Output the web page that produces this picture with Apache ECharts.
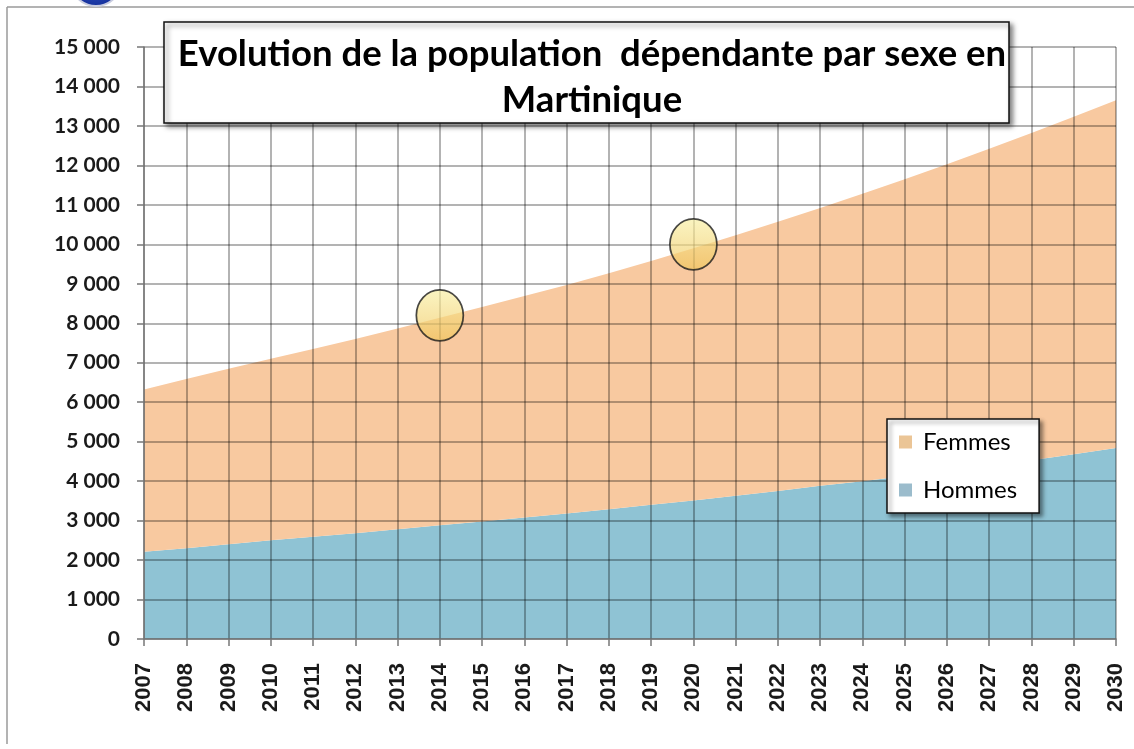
<!DOCTYPE html>
<html>
<head>
<meta charset="utf-8">
<script src="https://cdn.jsdelivr.net/npm/echarts@6/dist/echarts.min.js"></script>
<style>
html,body{margin:0;padding:0;background:#fff;}
#chart{width:1134px;height:749px;}
</style>
</head>
<body>
<div id="chart"></div>
<script>
var years = ['2007','2008','2009','2010','2011','2012','2013','2014','2015','2016','2017','2018','2019','2020','2021','2022','2023','2024','2025','2026','2027','2028','2029','2030'];
var hommes = [2210,2300,2400,2500,2590,2680,2780,2880,2980,3080,3180,3290,3400,3510,3630,3750,3880,4000,4130,4260,4390,4530,4680,4840];
var femmes = [4110,4290,4450,4600,4760,4920,5090,5260,5430,5610,5790,5980,6180,6390,6600,6820,7040,7280,7520,7770,8030,8290,8550,8810];
var markers = [['2014', 8200], ['2020', 10000]];
var titleText = 'Evolution de la population  dépendante par sexe en\nMartinique';

var chart = echarts.init(document.getElementById('chart'));
var gridLine = {show: true, lineStyle: {color: 'rgba(0,0,0,0.4)', width: 1.5}};
chart.setOption({
  backgroundColor: '#ffffff',
  animation: false,
  title: {
    text: titleText,
    left: 587, top: 26,
    textAlign: 'center',
    z: 101,
    textStyle: {fontFamily: 'Lato', fontWeight: 'bold', fontSize: 36.5, lineHeight: 46, color: '#000'}
  },
  legend: {
    orient: 'vertical',
    left: 887, top: 419,
    backgroundColor: '#ffffff',
    borderColor: '#111',
    borderWidth: 1.5,
    shadowBlur: 4, shadowColor: 'rgba(0,0,0,0.45)', shadowOffsetX: 3, shadowOffsetY: 3,
    padding: [11, 22, 11, 12],
    itemGap: 24,
    itemWidth: 13, itemHeight: 13,
    icon: 'rect',
    z: 20,
    textStyle: {fontFamily: 'Lato', fontSize: 24, color: '#000', padding: [0, 0, 0, 6]},
    data: [
      {name: 'Femmes', itemStyle: {color: '#ebc596'}},
      {name: 'Hommes', itemStyle: {color: '#9bbccc'}}
    ]
  },
  grid: {left: 144, right: 18, top: 47, bottom: 110},
  xAxis: {
    type: 'category',
    data: years,
    boundaryGap: false,
    z: 5,
    axisLine: {lineStyle: {color: '#777', width: 1.5}},
    axisTick: {show: true, length: 7, lineStyle: {color: '#777', width: 1.5}},
    axisLabel: {rotate: 90, margin: 24, fontFamily: 'Liberation Sans', fontWeight: 'bold', fontSize: 22, color: '#1a1a1a', interval: 0},
    splitLine: gridLine
  },
  yAxis: {
    type: 'value',
    min: 0, max: 15000, interval: 1000,
    z: 5,
    axisLine: {show: true, lineStyle: {color: '#777', width: 1.5}},
    axisTick: {show: true, length: 7, lineStyle: {color: '#777', width: 1.5}},
    axisLabel: {
      margin: 24,
      fontFamily: 'Lato', fontWeight: 'bold', fontSize: 21, color: '#1a1a1a',
      formatter: function (v) { return v >= 1000 ? Math.floor(v / 1000) + ' ' + ('00' + (v % 1000)).slice(-3) : String(v); }
    },
    splitLine: gridLine
  },
  series: [
    {
      name: 'Hommes', type: 'line', stack: 'total', data: hommes,
      symbol: 'none', lineStyle: {width: 0},
      itemStyle: {color: '#8fc3d4'},
      areaStyle: {color: '#8fc3d4', opacity: 1}
    },
    {
      name: 'Femmes', type: 'line', stack: 'total', data: femmes,
      symbol: 'none', lineStyle: {width: 0},
      itemStyle: {color: '#f8c9a0'},
      areaStyle: {color: '#f8c9a0', opacity: 1}
    },
    {
      name: 'repères', type: 'scatter', data: markers,
      symbol: 'circle', symbolSize: [47, 51], z: 8,
      silent: true,
      itemStyle: {
        color: new echarts.graphic.LinearGradient(0, 0, 0, 1, [
          {offset: 0, color: 'rgba(248,240,165,0.85)'},
          {offset: 1, color: 'rgba(240,196,90,0.85)'}
        ]),
        borderColor: '#1a1a1a', borderWidth: 1.8
      }
    }
  ],
  graphic: [
    {type: 'line', shape: {x1: 7, y1: 7, x2: 1134, y2: 7}, style: {stroke: '#9a9a9a', lineWidth: 1.5}, z: 1},
    {type: 'line', shape: {x1: 7, y1: 7, x2: 7, y2: 744}, style: {stroke: '#9a9a9a', lineWidth: 1.5}, z: 1},
    {type: 'circle', shape: {cx: 96, cy: -19.5, r: 25.5},
      style: {fill: new echarts.graphic.RadialGradient(0.5, 0.5, 0.5, [{offset: 0, color: '#3a5ad0'}, {offset: 1, color: '#14309a'}]), stroke: '#c8cce0', lineWidth: 2}, z: 2},
    {type: 'rect', shape: {x: 164, y: 22, width: 845, height: 101},
      style: {fill: '#ffffff', stroke: '#111', lineWidth: 1.5, shadowBlur: 5, shadowColor: 'rgba(0,0,0,0.5)', shadowOffsetX: 3, shadowOffsetY: 3}, z: 100}
  ]
});
</script>
</body>
</html>
